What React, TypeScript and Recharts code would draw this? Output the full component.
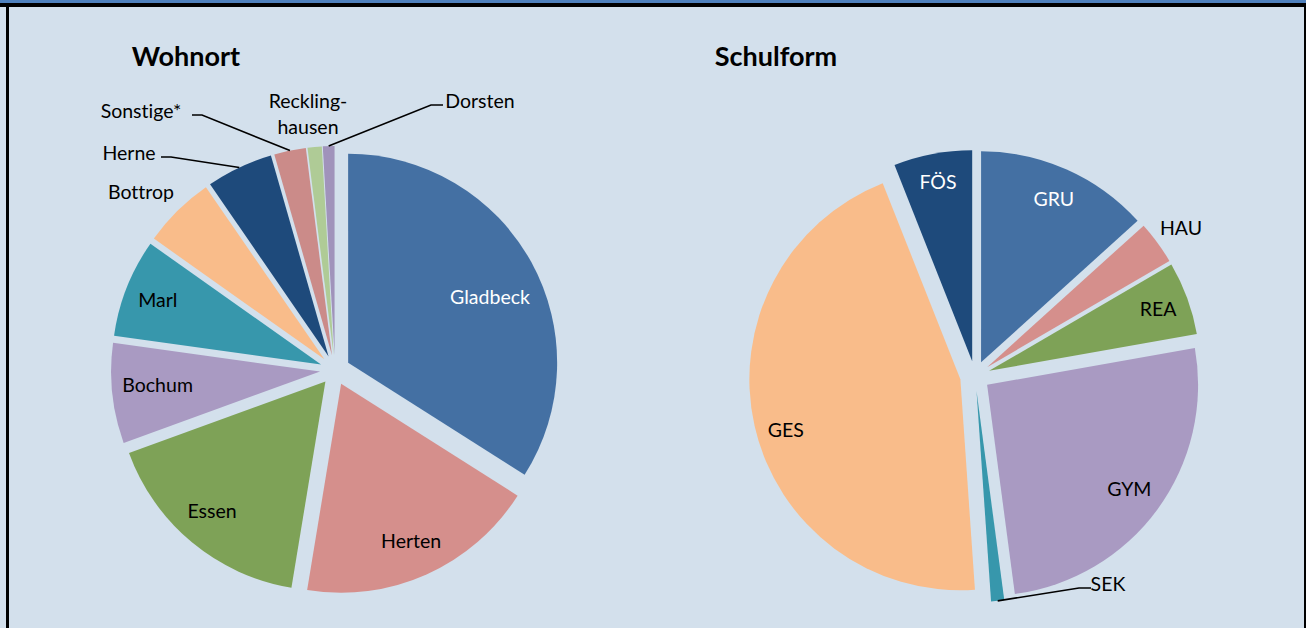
import React from "react";
import { Pie, PieChart, Sector, Cell } from "recharts";

const WOHNORT_NAMES = ["Gladbeck", "Herten", "Essen", "Bochum", "Marl", "Bottrop", "Herne", "Sonstige*", "Recklinghausen", "Dorsten"];
const WOHNORT_VALUES = [34.0, 18.6, 16.85, 7.75, 7.6, 5.6, 5.15, 2.45, 1.1, 0.9];
const WOHNORT_COLORS = ["#4470A3", "#D58F8C", "#7EA257", "#A99AC2", "#3797AC", "#F9BC8A", "#1E4A7B", "#CB8B89", "#AFCB96", "#A093BB"];

const SCHUL_NAMES = ["GRU", "HAU", "REA", "GYM", "SEK", "GES", "FÖS"];
const SCHUL_VALUES = [13.3, 3.3, 5.6, 25.7, 1.0, 45.1, 6.0];
const SCHUL_COLORS = ["#4470A3", "#D58F8C", "#7EA257", "#A99AC2", "#3797AC", "#F9BC8A", "#1E4A7B"];

const wohnortData = WOHNORT_NAMES.map((name, i) => ({ name, value: WOHNORT_VALUES[i] }));
const schulData = SCHUL_NAMES.map((name, i) => ({ name, value: SCHUL_VALUES[i] }));

const RADIAN = Math.PI / 180;
const EXPLODE = 15;
const FONT = "Lato, 'Open Sans', sans-serif";
const LABEL_SIZE = 19.5;
const NO_LIGA: React.CSSProperties = { fontVariantLigatures: "none" };

// labels placed outside the pie, relative to pie centre
type OutLabel = { dx: number; dy: number; lineX?: number; lines?: string[] };
const WOHNORT_OUT: Record<string, OutLabel> = {
  Bottrop: { dx: -194, dy: -179 },
  Herne: { dx: -206, dy: -218, lineX: 32 },
  "Sonstige*": { dx: -194, dy: -260, lineX: 51 },
  Recklinghausen: { dx: -27, dy: -257, lines: ["Reckling-", "hausen"] },
  Dorsten: { dx: 145, dy: -270, lineX: -37 },
};
const SCHUL_OUT: Record<string, OutLabel> = {
  HAU: { dx: 206, dy: -149 },
  SEK: { dx: 133, dy: 207, lineX: -17 },
};
// inside labels: radius fraction and angle nudge (Excel "best fit")
const INSIDE: Record<string, { r: number; da?: number }> = {
  Gladbeck: { r: 0.75, da: -3.3 },
  Herten: { r: 0.82 },
  Essen: { r: 0.823, da: -1.4 },
  Bochum: { r: 0.78, da: -1.2 },
  Marl: { r: 0.84 },
  GRU: { r: 0.85 },
  REA: { r: 0.853 },
  GYM: { r: 0.835 },
  GES: { r: 0.861, da: 3.15 },
  FÖS: { r: 0.865 },
};

function explodedSector(props: any) {
  const { cx, cy, midAngle } = props;
  const dx = Math.cos(-midAngle * RADIAN) * EXPLODE;
  const dy = Math.sin(-midAngle * RADIAN) * EXPLODE;
  return <Sector {...props} cx={cx + dx} cy={cy + dy} stroke="none" />;
}

function makeLabel(outside: Record<string, OutLabel>, white: string[]) {
  return (props: any) => {
    const { cx, cy, midAngle, outerRadius, name } = props;
    const cos = Math.cos(-midAngle * RADIAN);
    const sin = Math.sin(-midAngle * RADIAN);
    const o = outside[name];
    if (o) {
      const tx = cx + o.dx;
      const ty = cy + o.dy;
      let line = null;
      if (o.lineX !== undefined) {
        const sx = tx + o.lineX;
        const hx = sx + (o.lineX > 0 ? 10 : -12);
        const ax = cx + cos * (outerRadius + EXPLODE);
        const ay = cy + sin * (outerRadius + EXPLODE);
        line = <path d={`M${sx},${ty + 5}H${hx}L${ax},${ay}`} stroke="#000" strokeWidth={1.6} fill="none" />;
      }
      const lines = o.lines ?? [name];
      return (
        <g>
          {line}
          {lines.map((t, i) => (
            <text key={i} x={tx} y={ty + (i - (lines.length - 1) / 2) * 26} textAnchor="middle" dominantBaseline="central" fill="#000" fontSize={LABEL_SIZE} fontFamily={FONT} style={NO_LIGA}>
              {t}
            </text>
          ))}
        </g>
      );
    }
    const spec = INSIDE[name] ?? { r: 0.84 };
    const a = -(midAngle + (spec.da ?? 0)) * RADIAN;
    const r = outerRadius * spec.r + EXPLODE;
    const x = cx + Math.cos(a) * r;
    const y = cy + Math.sin(a) * r;
    return (
      <text x={x} y={y} textAnchor="middle" dominantBaseline="central" fill={white.includes(name) ? "#fff" : "#000"} fontSize={LABEL_SIZE} fontFamily={FONT} style={NO_LIGA}>
        {name}
      </text>
    );
  };
}

const titleStyle: React.CSSProperties = {
  position: "absolute",
  top: 39,
  width: 240,
  textAlign: "center",
  fontFamily: FONT,
  fontWeight: 700,
  fontSize: 27,
  lineHeight: "34px",
};

export default function App() {
  return (
    <div style={{ position: "absolute", left: 0, top: 0, width: 1306, height: 628, background: "#D3E0EC", overflow: "hidden" }}>
      <div style={{ position: "absolute", left: 0, top: 0, width: 1306, height: 3, background: "#4F81BD" }} />
      <div style={{ position: "absolute", left: 0, top: 3, width: 1306, height: 4, background: "#000" }} />
      <div style={{ position: "absolute", left: 6, top: 3, width: 3, height: 625, background: "#000" }} />
      <div style={{ position: "absolute", left: 1304, top: 3, width: 2, height: 625, background: "#000" }} />
      <div style={{ ...titleStyle, left: 66 }}>Wohnort</div>
      <div style={{ ...titleStyle, left: 656 }}>Schulform</div>
      <div style={{ position: "absolute", left: 0, top: 0 }}>
        <PieChart width={1306} height={628} margin={{ top: 0, right: 0, bottom: 0, left: 0 }}>
          <Pie
            data={wohnortData}
            dataKey="value"
            nameKey="name"
            cx={335}
            cy={370}
            outerRadius={209}
            startAngle={90}
            endAngle={-270}
            stroke="none"
            shape={explodedSector}
            label={makeLabel(WOHNORT_OUT, ["Gladbeck"])}
            labelLine={false}
            isAnimationActive={false}
          >
            {wohnortData.map((d, i) => (
              <Cell key={d.name} fill={WOHNORT_COLORS[i]} />
            ))}
          </Pie>
          <Pie
            data={schulData}
            dataKey="value"
            nameKey="name"
            cx={975}
            cy={376}
            outerRadius={211}
            startAngle={90}
            endAngle={-270}
            stroke="none"
            shape={explodedSector}
            label={makeLabel(SCHUL_OUT, ["GRU", "FÖS"])}
            labelLine={false}
            isAnimationActive={false}
          >
            {schulData.map((d, i) => (
              <Cell key={d.name} fill={SCHUL_COLORS[i]} />
            ))}
          </Pie>
        </PieChart>
      </div>
    </div>
  );
}
